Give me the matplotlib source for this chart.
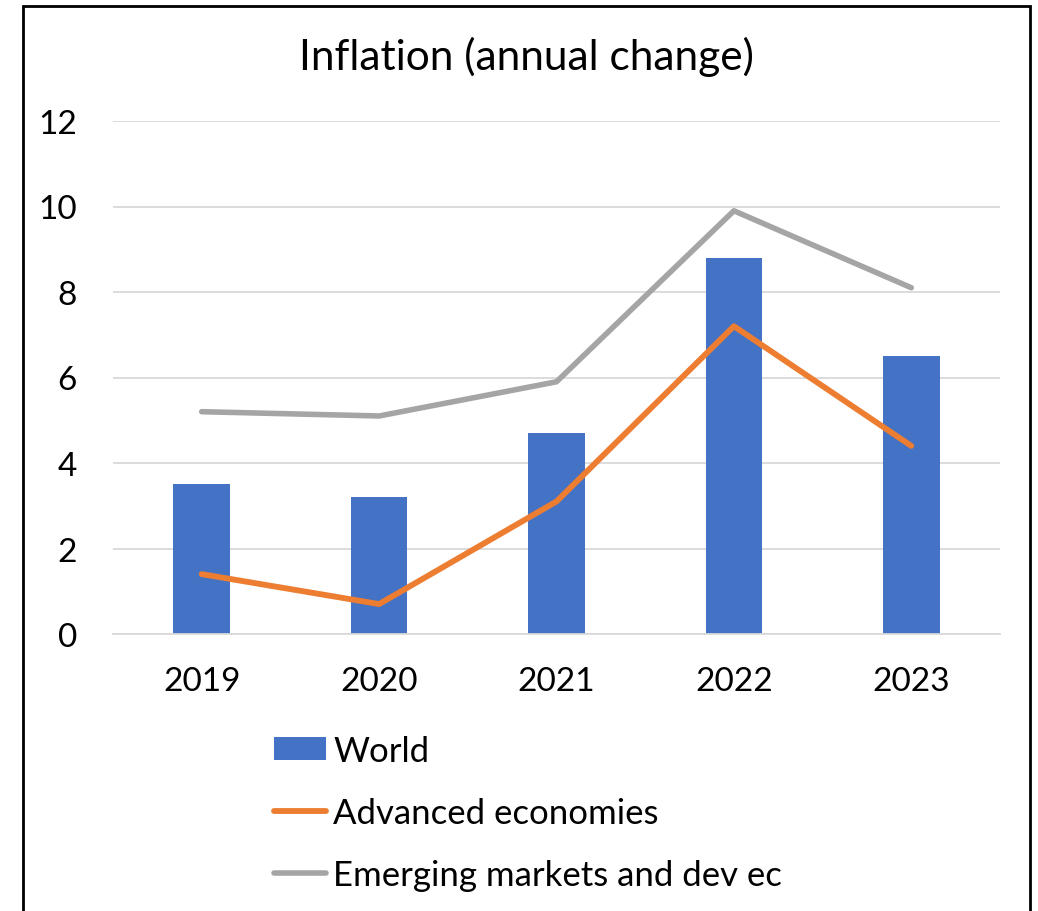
import numpy as np
import matplotlib.pyplot as plt
from matplotlib.patches import Rectangle

years = ['2019', '2020', '2021', '2022', '2023']
world = [3.5, 3.2, 4.7, 8.8, 6.5]
advanced = [1.4, 0.7, 3.1, 7.2, 4.4]
emerging = [5.2, 5.1, 5.9, 9.9, 8.1]

plt.rcParams['font.family'] = ['Lato', 'DejaVu Sans']

W, H = 1038, 912
fig = plt.figure(figsize=(W / 100, H / 100), dpi=100)
ax = fig.add_axes([113 / W, 1 - 635 / H, (1000 - 113) / W, (635 - 122) / H])

x = np.arange(len(years))
bars = ax.bar(x, world, width=0.32, color='#4472C4', label='World', zorder=2)
l1, = ax.plot(x, advanced, color='#ED7D31', lw=4.2, solid_capstyle='round',
              label='Advanced economies', zorder=3)
l2, = ax.plot(x, emerging, color='#A5A5A5', lw=4.0, solid_capstyle='round',
              label='Emerging markets and dev ec', zorder=3)

ax.set_xlim(-0.5, len(years) - 0.5)
ax.set_ylim(0, 12)
ax.set_yticks(range(0, 13, 2))
ax.set_xticks(x)
ax.set_xticklabels(years)
ax.grid(axis='y', color='#D9D9D9', lw=1.3, zorder=0)
for s in ['top', 'right', 'left']:
    ax.spines[s].set_visible(False)
ax.spines['bottom'].set_color('#D9D9D9')
ax.spines['bottom'].set_linewidth(1.3)
ax.tick_params(length=0, labelsize=24)
ax.tick_params(axis='y', pad=26)
ax.tick_params(axis='x', pad=23)

fig.text(526 / W, 1 - 57 / H, 'Inflation (annual change)', fontsize=30.5,
         ha='center', va='center')

fig.legend([bars, l1, l2], [bars.get_label(), l1.get_label(), l2.get_label()],
           loc='upper left', bbox_to_anchor=(274 / W, 1 - 736 / H),
           frameon=False, fontsize=25, handlelength=1.5, handleheight=0.65,
           handletextpad=0.2, labelspacing=0.86, borderaxespad=0, borderpad=0)

fig.patches.append(Rectangle((23 / W, -0.02), (1030 - 23) / W, 1.02 - 7 / H,
                             transform=fig.transFigure, fill=False,
                             edgecolor='black', lw=2))

fig.savefig('out.png', dpi=100)
